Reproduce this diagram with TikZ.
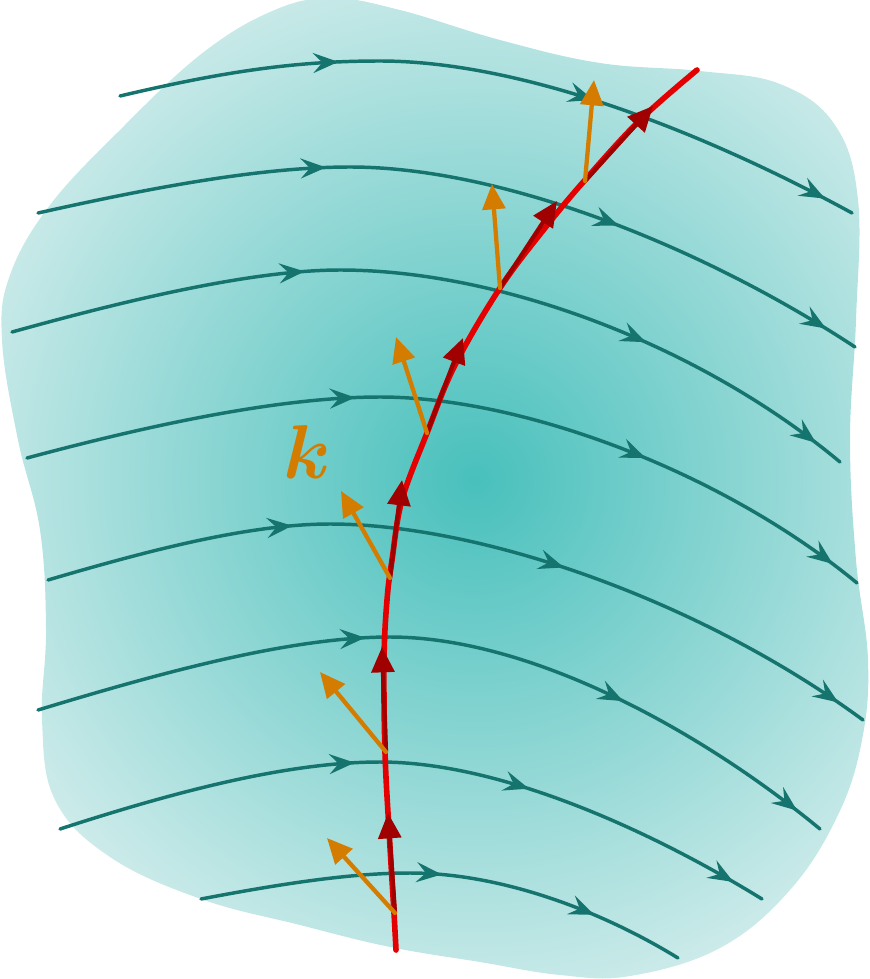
\documentclass[tikz,border=0pt]{standalone}
\usepackage{amsmath,bm}
\usetikzlibrary{arrows.meta,decorations.markings}
\definecolor{flowc}{RGB}{22,116,111}
\definecolor{blobin}{RGB}{72,192,188}
\definecolor{blobout}{RGB}{214,238,237}
\definecolor{redc}{RGB}{228,0,0}
\definecolor{darkredc}{RGB}{160,0,0}
\definecolor{korange}{RGB}{212,124,0}
\tikzset{
  flowline/.style={draw=flowc,line width=2.6pt,line cap=round},
  amark/.style={postaction={decorate,decoration={markings,
     mark=at position #1 with {\arrow[flowc]{Stealth[length=19pt,width=15pt,inset=7pt]}}}}},
  redline/.style={draw=redc,line width=4.2pt,line cap=round},
  tanarrow/.style={draw=darkredc,line width=3.2pt,-{Triangle[length=19pt,width=17pt]}},
  karrow/.style={draw=korange,line width=3.2pt,line cap=round,-{Triangle[length=19pt,width=17pt]}},
}
\begin{document}
\begin{tikzpicture}[x=0.75pt,y=-0.75pt]
\useasboundingbox (0,0) rectangle (870,979);
% blob
\begin{scope}
\clip plot[smooth cycle,tension=0.65] coordinates {
 (330,-2) (400,10) (500,40) (600,63) (700,71) (780,84) (835,125) (858,200)
 (856,320) (850,440) (856,560) (868,660) (862,740) (838,815) (790,890) (720,948)
 (630,976) (560,975) (480,962) (390,947) (300,925) (201,899) (110,857)
 (55,800) (42,720) (46,630) (40,530) (18,440) (2,340) (10,275) (50,205) (120,130) (200,55) (270,12)};
\shade[inner color=blobin,outer color=blobout] (475,480) circle (570);
\end{scope}
% streamlines
\draw[flowline,amark=0.29,amark=0.63,amark=0.96]
 (120,96) .. controls (230,70) and (300,61) .. (380,61) .. controls (520,61) and (700,130) .. (852,213);
\draw[flowline,amark=0.34,amark=0.69,amark=0.96]
 (38,213) .. controls (150,188) and (260,167) .. (350,167) .. controls (500,167) and (700,245) .. (855,347);
\draw[flowline,amark=0.34,amark=0.74,amark=0.965]
 (12,332) .. controls (120,302) and (250,270) .. (340,270) .. controls (500,270) and (700,345) .. (840,462);
\draw[flowline,amark=0.38,amark=0.72,amark=0.965]
 (27,458) .. controls (150,425) and (280,397) .. (380,397) .. controls (520,397) and (720,470) .. (857,583);
\draw[flowline,amark=0.29,amark=0.61,amark=0.965]
 (48,580) .. controls (150,550) and (250,524) .. (330,524) .. controls (480,524) and (700,600) .. (863,720);
\draw[flowline,amark=0.40,amark=0.72,amark=0.965]
 (38,710) .. controls (160,673) and (290,637) .. (390,637) .. controls (530,637) and (700,730) .. (820,829);
\draw[flowline,amark=0.41,amark=0.65,amark=0.955]
 (60,829) .. controls (180,790) and (290,762) .. (380,762) .. controls (500,762) and (650,830) .. (762,899);
\draw[flowline,amark=0.49,amark=0.81]
 (201,899) .. controls (280,884) and (350,873) .. (410,873) .. controls (500,873) and (600,910) .. (678,958);
% red curve
\draw[redline] plot[smooth,tension=0.6] coordinates {
 (396,950) (394,913) (389,830) (385,752) (384,660) (387,600) (392,560) (402,500) (427,433)
 (455,365) (500,288) (545,228) (585,180) (640,120) (697,70)};
% base points and tips
\coordinate (b1) at (395,913); \coordinate (t1) at (388,813); \coordinate (k1) at (327,838);
\coordinate (b2) at (386,752); \coordinate (t2) at (382,647); \coordinate (k2) at (320,672);
\coordinate (b3) at (390,578); \coordinate (t3) at (402,480); \coordinate (k3) at (341,491);
\coordinate (b4) at (427,433); \coordinate (t4) at (463,338); \coordinate (k4) at (396,337);
\coordinate (b5) at (500,288); \coordinate (t5) at (557,201); \coordinate (k5) at (492,184);
\coordinate (b6) at (585,181); \coordinate (t6) at (653,106); \coordinate (k6) at (594,80);
\foreach \i in {1,...,6} {\draw[tanarrow] (b\i) -- (t\i);}
\foreach \i in {1,...,6} {\draw[karrow] (b\i) -- (k\i);}
\node[text=korange,font=\Huge,scale=2.3] (klabel) at (307,452) {$\bm{k}$};
\end{tikzpicture}
\end{document}
